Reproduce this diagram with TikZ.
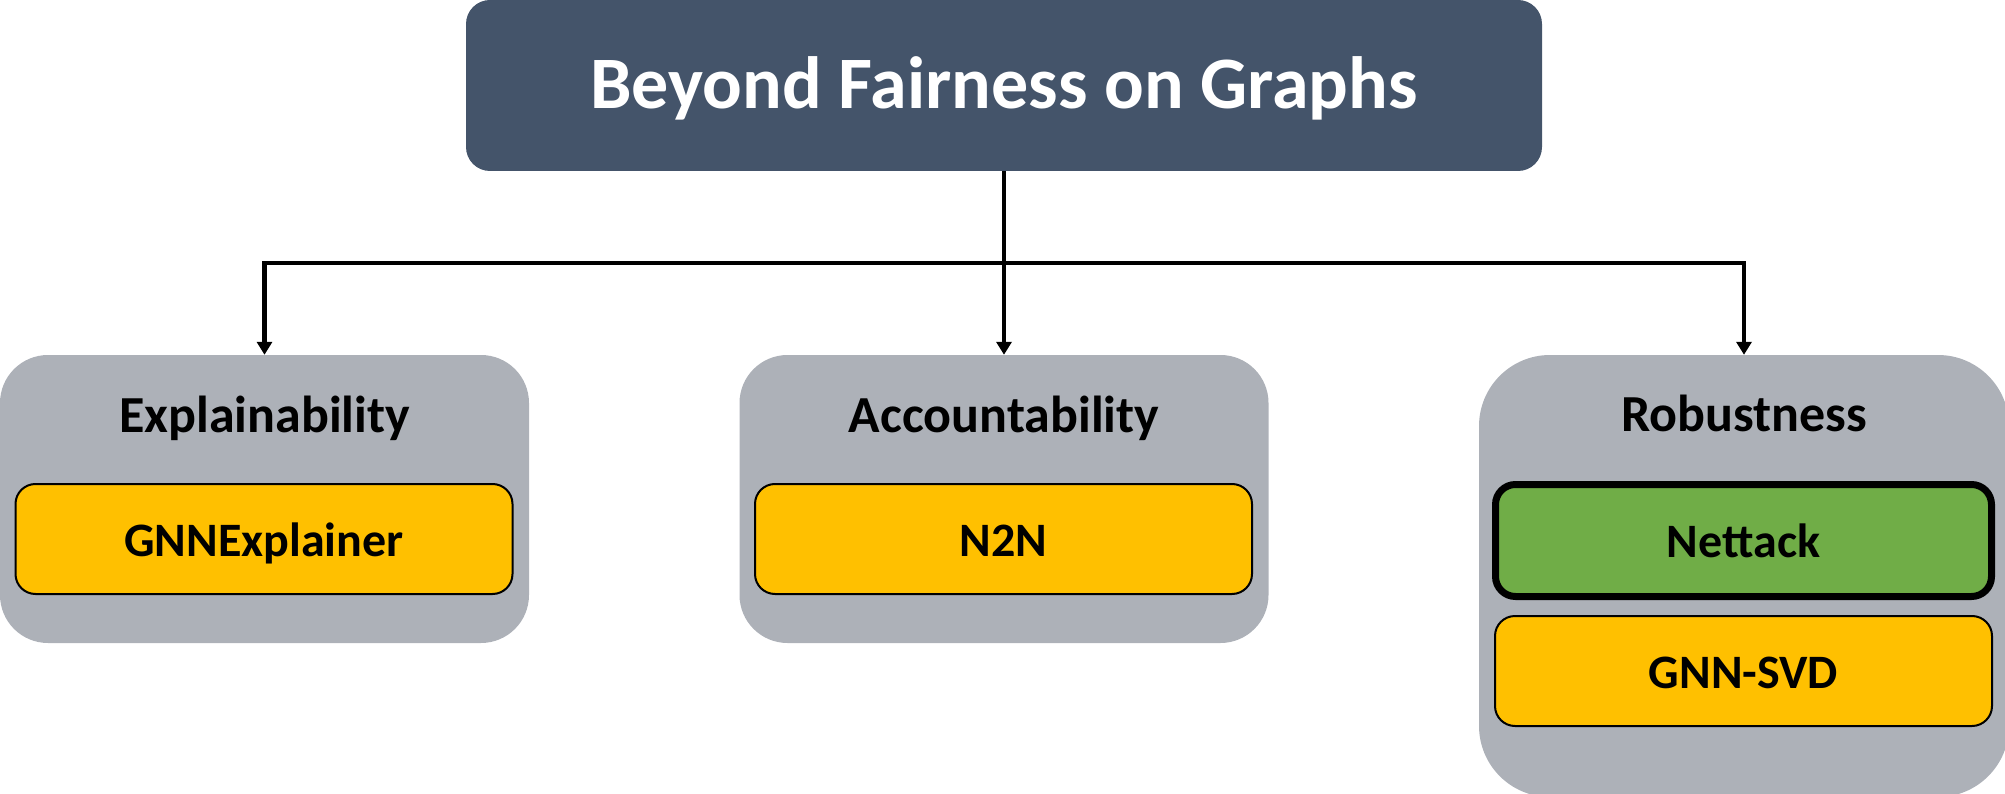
\documentclass[tikz,border=0pt]{standalone}
\usepackage{fontspec}
\setmainfont{Carlito}
\usetikzlibrary{arrows.meta}
\definecolor{topblue}{HTML}{44546A}
\definecolor{catgray}{HTML}{ADB1B8}
\definecolor{itemyellow}{HTML}{FFC000}
\definecolor{itemgreen}{HTML}{70AD47}

\begin{document}
\begin{tikzpicture}[x=1pt,y=-1pt,
  topbox/.style={fill=topblue,rounded corners=24pt,minimum width=1076pt,minimum height=171pt,inner sep=0pt,text=white,font=\fontsize{74}{80}\selectfont\bfseries,text height=47pt,text depth=0pt},
  catbox/.style={fill=catgray,rounded corners=48pt,minimum width=529pt,minimum height=288pt,inner sep=0pt},
  cattitle/.style={anchor=base,inner sep=0pt,font=\fontsize{52}{60}\selectfont\bfseries},
  itembox/.style={draw=black,line width=2pt,fill=itemyellow,rounded corners=20pt,minimum width=497pt,minimum height=110pt,inner sep=0pt,font=\fontsize{48}{56}\selectfont\bfseries,text height=34pt,text depth=0pt},
  link/.style={line width=4.5pt},
  arr/.style={line width=4.5pt,-{Triangle[width=15pt,length=13pt]}}]
\useasboundingbox (0,0) rectangle (2005,794);

\node[topbox] (T) at (1004,85.5) {Beyond Fairness on Graphs};

\node[catbox] (C1) at (264.5,499) {};
\node[catbox] (C2) at (1004,499) {};
\node[catbox,rounded corners=71pt,minimum width=530pt,minimum height=442pt] (C3) at (1744,576) {};

\node[cattitle] (L1) at (264.5,432) {Explainability};
\node[cattitle] (L2) at (1004,432) {Accountability};
\node[cattitle] (L3) at (1744,431) {Robustness};

\node[itembox] (I1) at (264,539) {GNNExplainer};
\node[itembox] (I2) at (1003.5,539) {N2N};
\node[itembox,fill=itemgreen,line width=7pt,minimum width=496pt,minimum height=112pt] (I3) at (1743.5,540.5) {Nettack};
\node[itembox] (I4) at (1743.5,671) {GNN-SVD};

\coordinate (J) at (1004,263);
\draw[link] (T.south) -- (J);
\draw[arr] (J) -| (C1.north);
\draw[arr] (J) -- (C2.north);
\draw[arr] (J) -| (C3.north);
\end{tikzpicture}
\end{document}
